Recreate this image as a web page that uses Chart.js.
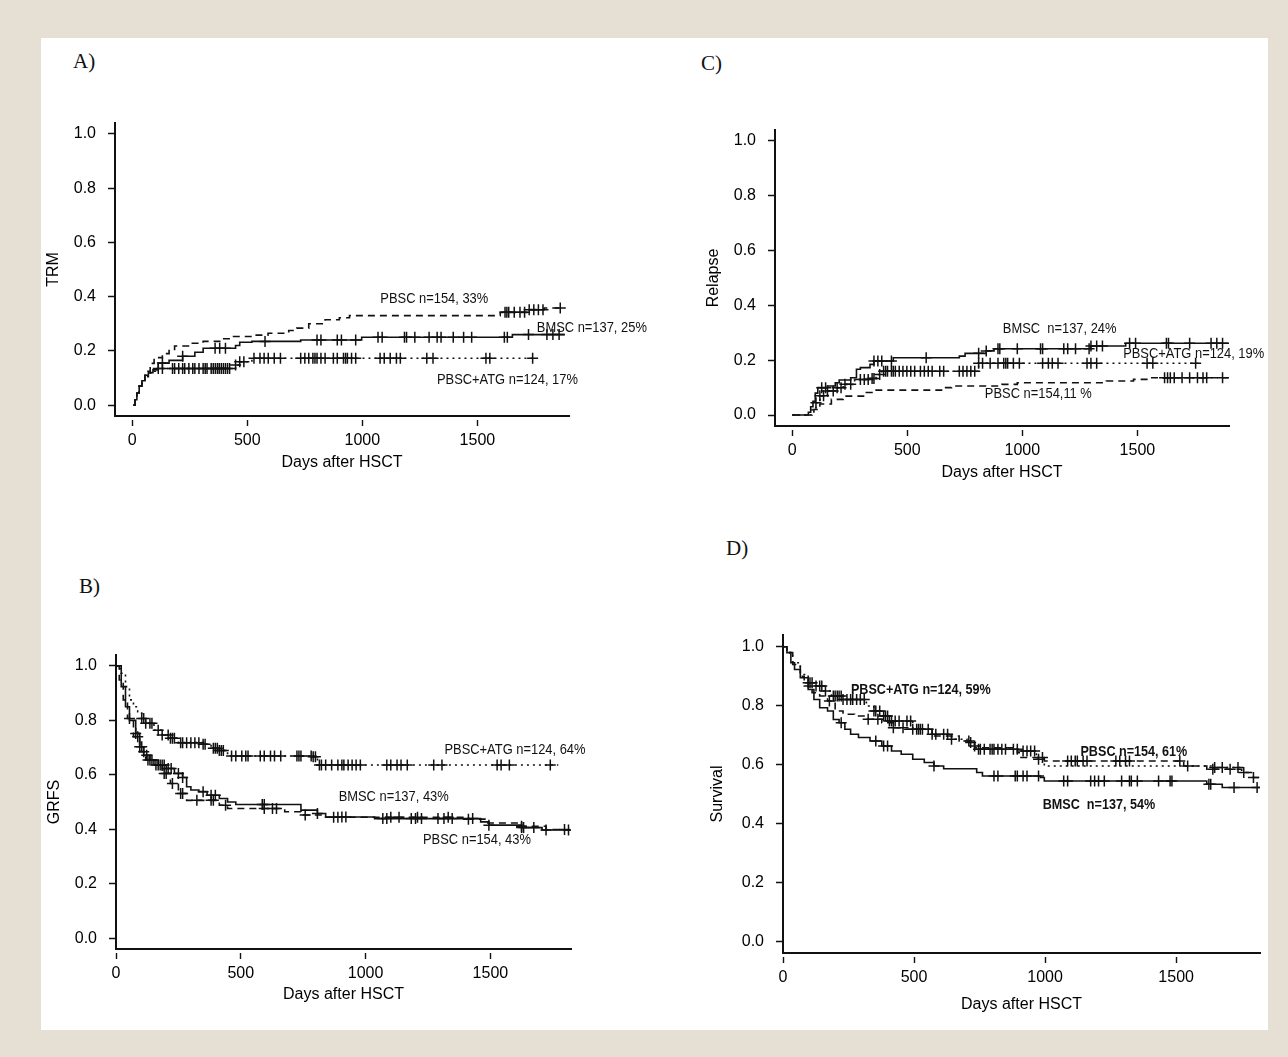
<!DOCTYPE html>
<html><head><meta charset="utf-8">
<script src="https://cdn.jsdelivr.net/npm/chart.js@4.4.1/dist/chart.umd.min.js"></script>
<style>
html,body{margin:0;padding:0;}
body{width:1288px;height:1057px;background:#e6dfd3;position:relative;overflow:hidden;}
#sheet{position:absolute;left:41px;top:38px;width:1227px;height:992px;background:#fff;}
canvas{position:absolute;}
.lbl{position:absolute;font-family:'Liberation Serif','Times New Roman',serif;font-size:21px;line-height:21px;color:#111;}
</style></head>
<body>
<div id="sheet"></div>
<canvas id="cA"></canvas><canvas id="cB"></canvas><canvas id="cC"></canvas><canvas id="cD"></canvas>
<div class="lbl" style="left:73px;top:51px">A)</div>
<div class="lbl" style="left:79px;top:576px">B)</div>
<div class="lbl" style="left:701px;top:53px">C)</div>
<div class="lbl" style="left:726px;top:538px">D)</div>
<script>
// ---------- shared ticks ----------
const xTicks = [0, 500, 1000, 1500];
const yTicks = [0, 0.2, 0.4, 0.6, 0.8, 1.0];
const xTitle = "Days after HSCT";

// ---------- A) TRM ----------
const trmBmscDays = [5, 12, 20, 30, 42, 55, 70, 90, 113, 160, 219, 272, 308, 449, 467, 520, 732, 997, 1652, 1880];
const trmBmscVals = [0, 0.02, 0.045, 0.07, 0.09, 0.11, 0.12, 0.13, 0.155, 0.165, 0.18, 0.195, 0.21, 0.22, 0.232, 0.235, 0.24, 0.25, 0.26, 0.26];
const trmBmscCens = [131, 219, 360, 380, 405, 577, 803, 820, 891, 909, 971, 1068, 1086, 1183, 1192, 1228, 1290, 1325, 1342, 1395, 1440, 1475, 1617, 1630, 1722, 1802, 1828, 1855];
const trmPbscDays = [5, 12, 20, 30, 42, 55, 68, 78, 95, 131, 160, 184, 250, 308, 380, 431, 520, 590, 680, 715, 767, 838, 900, 944, 1599, 1722, 1790, 1870];
const trmPbscVals = [0, 0.02, 0.045, 0.07, 0.09, 0.11, 0.125, 0.154, 0.175, 0.19, 0.205, 0.218, 0.228, 0.235, 0.245, 0.253, 0.258, 0.265, 0.275, 0.284, 0.30, 0.315, 0.322, 0.33, 0.342, 0.352, 0.358, 0.358];
const trmPbscCens = [1620, 1628, 1636, 1660, 1685, 1705, 1725, 1745, 1765, 1785, 1860];
const trmAtgDays = [5, 12, 20, 30, 42, 55, 70, 85, 100, 449, 467, 520, 1750];
const trmAtgVals = [0, 0.02, 0.045, 0.07, 0.09, 0.105, 0.118, 0.125, 0.135, 0.148, 0.16, 0.173, 0.173];
const trmAtgCens = [113, 131, 175, 184, 202, 219, 228, 246, 263, 272, 290, 308, 317, 325, 343, 352, 361, 370, 378, 387, 396, 405, 414, 423, 449, 467, 485, 529, 555, 573, 591, 617, 644, 732, 750, 767, 785, 794, 803, 820, 838, 874, 891, 918, 927, 935, 953, 971, 1077, 1095, 1121, 1148, 1165, 1280, 1307, 1537, 1554, 1740];
const trmLabels = ["PBSC n=154, 33%", "BMSC n=137, 25%", "PBSC+ATG n=124, 17%"];

// ---------- B) GRFS ----------
const grfsBmscDays = [0, 5, 21, 38, 54, 79, 95, 111, 136, 169, 201, 234, 267, 283, 300, 332, 365, 414, 447, 480, 725, 741, 807, 840, 1036, 1461, 1494, 1625, 1707, 1822];
const grfsBmscVals = [1, 1, 0.924, 0.85, 0.80, 0.752, 0.703, 0.672, 0.654, 0.636, 0.623, 0.605, 0.59, 0.556, 0.544, 0.538, 0.525, 0.513, 0.50, 0.491, 0.491, 0.47, 0.458, 0.445, 0.439, 0.427, 0.415, 0.406, 0.397, 0.397];
const grfsBmscCens = [79, 95, 103, 123, 136, 169, 185, 193, 209, 221, 250, 267, 349, 381, 398, 586, 594, 807, 905, 921, 1069, 1085, 1183, 1200, 1224, 1290, 1314, 1347, 1429, 1494, 1625, 1633, 1674, 1723, 1813];
const grfsPbscDays = [0, 13, 29, 46, 70, 95, 119, 152, 185, 218, 250, 283, 414, 447, 676, 741, 840, 1412, 1478, 1625, 1723, 1800];
const grfsPbscVals = [1, 0.948, 0.875, 0.807, 0.74, 0.685, 0.654, 0.636, 0.605, 0.568, 0.531, 0.506, 0.488, 0.476, 0.464, 0.452, 0.444, 0.437, 0.423, 0.411, 0.399, 0.399];
const grfsPbscCens = [54, 87, 111, 128, 144, 160, 177, 193, 201, 226, 259, 267, 324, 381, 390, 439, 594, 627, 643, 758, 872, 889, 1101, 1134, 1208, 1331, 1412, 1625, 1797];
const grfsAtgDays = [0, 10, 21, 38, 54, 70, 87, 103, 119, 152, 185, 218, 250, 349, 381, 414, 447, 790, 807, 1772];
const grfsAtgVals = [1, 0.99, 0.973, 0.924, 0.875, 0.85, 0.832, 0.807, 0.789, 0.764, 0.746, 0.734, 0.718, 0.712, 0.697, 0.689, 0.669, 0.666, 0.636, 0.636];
const grfsAtgCens = [103, 111, 119, 136, 144, 169, 185, 209, 218, 226, 234, 259, 267, 283, 300, 316, 332, 349, 357, 390, 398, 406, 414, 422, 430, 463, 480, 504, 520, 529, 578, 594, 619, 635, 660, 725, 733, 741, 782, 790, 799, 815, 823, 840, 864, 889, 905, 913, 930, 946, 962, 979, 1085, 1101, 1126, 1142, 1167, 1273, 1306, 1527, 1543, 1576, 1740];
const grfsLabels = ["PBSC+ATG n=124, 64%", "BMSC n=137, 43%", "PBSC n=154, 43%"];

// ---------- C) Relapse ----------
const relBmscDays = [0, 60, 70, 80, 90, 100, 111, 153, 187, 204, 254, 279, 296, 338, 355, 439, 726, 751, 843, 877, 1298, 1449, 1900];
const relBmscVals = [0, 0, 0.01, 0.03, 0.05, 0.08, 0.10, 0.106, 0.118, 0.128, 0.136, 0.167, 0.173, 0.185, 0.197, 0.209, 0.215, 0.225, 0.234, 0.242, 0.252, 0.262, 0.262];
const relBmscCens = [128, 145, 355, 372, 389, 431, 582, 810, 843, 894, 902, 978, 1079, 1088, 1180, 1197, 1231, 1290, 1298, 1323, 1348, 1466, 1492, 1626, 1635, 1727, 1820, 1845, 1870];
const relPbscDays = [0, 85, 94, 120, 170, 221, 322, 355, 658, 692, 911, 978, 1365, 1483, 1550, 1900];
const relPbscVals = [0, 0, 0.02, 0.04, 0.057, 0.069, 0.082, 0.091, 0.10, 0.106, 0.112, 0.118, 0.124, 0.13, 0.136, 0.136];
const relPbscCens = [1618, 1631, 1643, 1660, 1694, 1727, 1761, 1785, 1801, 1870];
const relAtgDays = [0, 75, 86, 103, 120, 153, 187, 221, 271, 338, 364, 389, 810, 1778];
const relAtgVals = [0, 0, 0.02, 0.045, 0.07, 0.088, 0.10, 0.112, 0.13, 0.133, 0.148, 0.16, 0.189, 0.189];
const relAtgCens = [103, 120, 136, 153, 178, 195, 212, 229, 254, 296, 313, 330, 347, 355, 380, 397, 406, 414, 431, 439, 448, 465, 481, 498, 515, 532, 557, 574, 591, 608, 641, 658, 726, 742, 759, 776, 793, 810, 827, 860, 894, 919, 928, 936, 961, 987, 1088, 1113, 1130, 1155, 1281, 1298, 1323, 1542, 1567, 1753];
const relLabels = ["BMSC  n=137, 24%", "PBSC+ATG n=124, 19%", "PBSC n=154,11 %"];

// ---------- D) Survival ----------
const survBmscDays = [0, 15, 30, 44, 66, 96, 118, 140, 170, 192, 214, 236, 258, 288, 332, 377, 414, 451, 495, 539, 576, 613, 739, 761, 982, 997, 1617, 1676, 1820];
const survBmscVals = [1, 0.98, 0.946, 0.923, 0.895, 0.855, 0.821, 0.793, 0.782, 0.753, 0.742, 0.72, 0.703, 0.692, 0.68, 0.663, 0.646, 0.635, 0.618, 0.607, 0.595, 0.586, 0.573, 0.561, 0.556, 0.544, 0.533, 0.522, 0.522];
const survBmscCens = [222, 354, 384, 399, 576, 805, 820, 886, 894, 916, 931, 975, 1071, 1086, 1174, 1189, 1204, 1226, 1292, 1322, 1329, 1352, 1433, 1477, 1484, 1625, 1632, 1721, 1809];
const survPbscDays = [0, 15, 37, 66, 81, 111, 140, 170, 199, 229, 273, 318, 377, 421, 465, 569, 672, 731, 894, 908, 997, 1529, 1617, 1750, 1795, 1820];
const survPbscVals = [1, 0.98, 0.94, 0.90, 0.867, 0.844, 0.833, 0.816, 0.782, 0.771, 0.765, 0.754, 0.742, 0.725, 0.72, 0.697, 0.68, 0.657, 0.64, 0.624, 0.612, 0.595, 0.584, 0.573, 0.556, 0.556];
const survPbscCens = [177, 325, 362, 421, 458, 709, 990, 1086, 1100, 1115, 1123, 1145, 1160, 1270, 1285, 1307, 1322, 1514, 1544, 1640, 1706, 1758, 1795];
const survAtgDays = [0, 15, 37, 66, 96, 126, 155, 185, 229, 318, 347, 377, 406, 495, 569, 643, 702, 731, 746, 908, 967, 997, 1647, 1750];
const survAtgVals = [1, 0.98, 0.946, 0.906, 0.878, 0.867, 0.85, 0.833, 0.821, 0.799, 0.782, 0.765, 0.748, 0.72, 0.703, 0.686, 0.675, 0.663, 0.652, 0.646, 0.618, 0.595, 0.59, 0.59];
const survAtgCens = [96, 103, 111, 126, 140, 148, 162, 192, 199, 207, 214, 222, 229, 244, 258, 266, 281, 295, 310, 347, 354, 369, 384, 391, 399, 406, 414, 428, 443, 473, 487, 495, 510, 517, 524, 532, 554, 569, 583, 613, 628, 643, 716, 731, 746, 753, 768, 790, 798, 805, 820, 835, 849, 879, 894, 916, 931, 945, 960, 975, 1647, 1676, 1736];
const survLabels = ["PBSC+ATG n=124, 59%", "PBSC n=154, 61%", "BMSC  n=137, 54%"];

// ---------- styling / layout ----------
const INK = '#111111';
const AXIS_FONT = "'Liberation Sans', Arial, Helvetica, sans-serif";
const DASH = {solid: [], dashed: [7, 5], dotted: [2, 4]};

function stepAt(days, vals, t) {
  let v = vals[0];
  for (let i = 0; i < days.length; i++) { if (days[i] <= t) v = vals[i]; else break; }
  return v;
}

// draws the in-plot annotations at data coordinates, horizontally condensed text
const annotPlugin = {
  id: 'annot',
  afterDatasetsDraw(chart, args, opts) {
    const ctx = chart.ctx, xs = chart.scales.x, ys = chart.scales.y;
    ctx.save();
    ctx.font = opts.font;
    ctx.fillStyle = INK;
    ctx.textAlign = 'left';
    ctx.textBaseline = 'middle';
    opts.items.forEach(it => {
      ctx.save();
      ctx.translate(xs.getPixelForValue(it.x), ys.getPixelForValue(it.y));
      ctx.scale(opts.squeeze, 1);
      ctx.fillText(it.text, 0, 0);
      ctx.restore();
    });
    ctx.restore();
  }
};

function buildPanel(p) {
  const cv = document.getElementById(p.id);
  cv.width = p.w; cv.height = p.h;
  cv.style.left = p.left + 'px'; cv.style.top = p.top + 'px';
  cv.style.width = p.w + 'px'; cv.style.height = p.h + 'px';
  const datasets = [];
  p.series.forEach(s => {
    datasets.push({
      data: s.days.map((d, i) => ({x: d, y: s.vals[i]})),
      stepped: 'before', borderColor: INK, borderWidth: 1.6, borderDash: DASH[s.style],
      pointRadius: 0, fill: false, tension: 0
    });
    datasets.push({
      data: s.cens.map(t => ({x: t, y: stepAt(s.days, s.vals, t)})),
      showLine: false, pointStyle: 'cross', pointRadius: 5.5, borderColor: INK, borderWidth: 1.5
    });
  });
  const tickFont = {family: AXIS_FONT, size: 16};
  const gridOpts = {drawOnChartArea: false, drawTicks: true, tickLength: 10, tickColor: INK, tickWidth: 1.4, tickBorderDash: [0, 3, 7, 60]};
  new Chart(cv, {
    type: 'line',
    data: {datasets},
    plugins: [annotPlugin],
    options: {
      responsive: false, animation: false, devicePixelRatio: 1, events: [],
      layout: {autoPadding: false, padding: {left: 0, top: p.pt, right: p.pr, bottom: 0}},
      plugins: {legend: {display: false}, tooltip: {enabled: false},
        annot: {font: p.noteFont, squeeze: p.squeeze, items: p.notes}},
      scales: {
        x: {
          type: 'linear', min: p.xMin, max: p.xMax,
          afterBuildTicks: s => { s.ticks = xTicks.map(v => ({value: v})); },
          afterFit: s => { s.height = p.hx; },
          grid: gridOpts,
          border: {display: true, color: INK, width: 2},
          ticks: {font: tickFont, color: '#000', padding: 5, maxRotation: 0, callback: v => String(v)},
          title: {display: true, text: xTitle, font: tickFont, color: '#000', padding: {top: 0, bottom: p.xtPad}}
        },
        y: {
          type: 'linear', min: -0.04, max: 1.04,
          afterBuildTicks: s => { s.ticks = yTicks.map(v => ({value: v})); },
          afterFit: s => { s.width = p.wy; },
          grid: gridOpts,
          border: {display: true, color: INK, width: 2},
          ticks: {font: tickFont, color: '#000', padding: 9, callback: v => Number(v).toFixed(1)},
          title: {display: true, text: p.yTitle, font: tickFont, color: '#000', padding: {top: p.ytPad, bottom: 0}}
        }
      }
    }
  });
}

const noteRegular = "15px " + AXIS_FONT;
const noteBold = "bold 15px " + AXIS_FONT;

buildPanel({
  id: 'cA', left: 40, top: 100, w: 640, h: 400, wy: 75, hx: 84, pt: 23, pr: 111, xtPad: 28, ytPad: 4,
  xMin: -75, xMax: 1898, yTitle: 'TRM', noteFont: noteRegular, squeeze: 0.86,
  series: [
    {days: trmPbscDays, vals: trmPbscVals, cens: trmPbscCens, style: 'dashed'},
    {days: trmBmscDays, vals: trmBmscVals, cens: trmBmscCens, style: 'solid'},
    {days: trmAtgDays, vals: trmAtgVals, cens: trmAtgCens, style: 'dotted'}
  ],
  notes: [
    {text: trmLabels[0], x: 1078, y: 0.393},
    {text: trmLabels[1], x: 1758, y: 0.285},
    {text: trmLabels[2], x: 1324, y: 0.095}
  ]
});

buildPanel({
  id: 'cC', left: 690, top: 100, w: 598, h: 400, wy: 85, hx: 74, pt: 30, pr: 59, xtPad: 18, ytPad: 14,
  xMin: -75, xMax: 1898, yTitle: 'Relapse', noteFont: noteRegular, squeeze: 0.86,
  series: [
    {days: relPbscDays, vals: relPbscVals, cens: relPbscCens, style: 'dashed'},
    {days: relBmscDays, vals: relBmscVals, cens: relBmscCens, style: 'solid'},
    {days: relAtgDays, vals: relAtgVals, cens: relAtgCens, style: 'dotted'}
  ],
  notes: [
    {text: relLabels[0], x: 915, y: 0.315},
    {text: relLabels[1], x: 1438, y: 0.223},
    {text: relLabels[2], x: 837, y: 0.076}
  ]
});

buildPanel({
  id: 'cB', left: 40, top: 620, w: 640, h: 400, wy: 76, hx: 71, pt: 35, pr: 109, xtPad: 16, ytPad: 5,
  xMin: 0, xMax: 1823, yTitle: 'GRFS', noteFont: noteRegular, squeeze: 0.86,
  series: [
    {days: grfsPbscDays, vals: grfsPbscVals, cens: grfsPbscCens, style: 'dashed'},
    {days: grfsBmscDays, vals: grfsBmscVals, cens: grfsBmscCens, style: 'solid'},
    {days: grfsAtgDays, vals: grfsAtgVals, cens: grfsAtgCens, style: 'dotted'}
  ],
  notes: [
    {text: grfsLabels[0], x: 1316, y: 0.691},
    {text: grfsLabels[1], x: 892, y: 0.52},
    {text: grfsLabels[2], x: 1230, y: 0.361}
  ]
});

buildPanel({
  id: 'cD', left: 690, top: 600, w: 598, h: 428, wy: 93, hx: 75, pt: 35, pr: 28, xtPad: 14, ytPad: 18,
  xMin: 0, xMax: 1820, yTitle: 'Survival', noteFont: noteBold, squeeze: 0.84,
  series: [
    {days: survPbscDays, vals: survPbscVals, cens: survPbscCens, style: 'dashed'},
    {days: survBmscDays, vals: survBmscVals, cens: survBmscCens, style: 'solid'},
    {days: survAtgDays, vals: survAtgVals, cens: survAtgCens, style: 'dotted'}
  ],
  notes: [
    {text: survLabels[0], x: 259, y: 0.852},
    {text: survLabels[1], x: 1135, y: 0.642},
    {text: survLabels[2], x: 991, y: 0.463}
  ]
});
</script>
</body></html>
